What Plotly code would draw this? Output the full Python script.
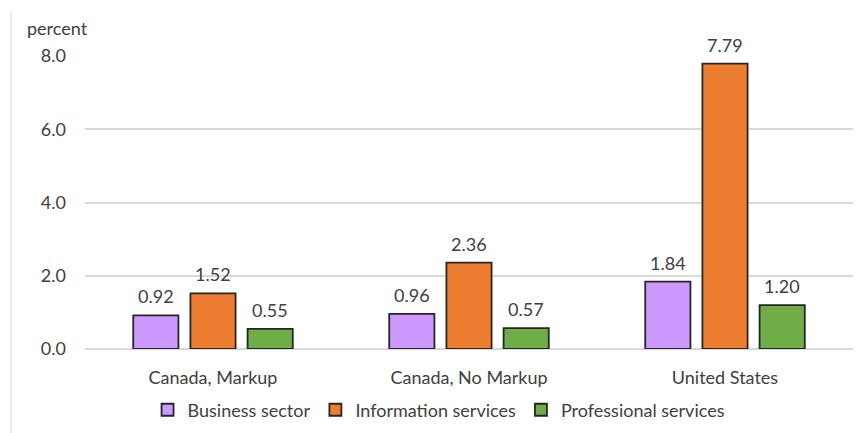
import plotly.graph_objects as go

categories = ["Canada, Markup", "Canada, No Markup", "United States"]
business_sector = [0.92, 0.96, 1.84]
information_services = [1.52, 2.36, 7.79]
professional_services = [0.55, 0.57, 1.20]

series = [
    ("Business sector", business_sector, "#CC99FF"),
    ("Information services", information_services, "#ED7D31"),
    ("Professional services", professional_services, "#70AD47"),
]

FONT = "Lato, Carlito, Calibri, sans-serif"
TEXT = "#404040"
SIZE = 18

W, H = 863, 433
M = dict(l=85, r=10, t=56, b=84)
BARGAP = 0.33
BARGROUPGAP = 0.21

# horizontal pixel distance between neighbouring bars inside a group
plot_w = W - M["l"] - M["r"]
slot_px = plot_w / len(categories) * (1 - BARGAP) / len(series)

fig = go.Figure()
annotations = []
for i, (name, vals, color) in enumerate(series):
    fig.add_trace(go.Bar(
        name=name, x=categories, y=vals,
        marker=dict(color=color, line=dict(color="#262626", width=1.8)),
    ))
    # value labels sitting above each bar
    for cat, v in zip(categories, vals):
        annotations.append(dict(
            x=cat, y=v, xref="x", yref="y", text=f"{v:.2f}", showarrow=False,
            xanchor="center", yanchor="middle", yshift=19,
            xshift=(i - (len(series) - 1) / 2) * slot_px,
            font=dict(size=SIZE, color=TEXT, family=FONT),
        ))

annotations.append(dict(text="percent", xref="paper", yref="paper", x=-0.078, y=1.096,
                        xanchor="left", yanchor="middle", showarrow=False,
                        font=dict(size=SIZE, color=TEXT, family=FONT)))

fig.update_layout(
    width=W, height=H,
    margin=M,
    paper_bgcolor="white", plot_bgcolor="white",
    barmode="group", bargap=BARGAP, bargroupgap=BARGROUPGAP,
    font=dict(family=FONT, size=SIZE, color=TEXT),
    showlegend=True,
    legend=dict(orientation="h", x=0.461, xanchor="center",
                yref="container", y=0.053, yanchor="middle",
                font=dict(size=SIZE, color=TEXT, family=FONT), itemwidth=30,
                traceorder="normal"),
    xaxis=dict(showgrid=False, showline=False, ticks="", ticklabelstandoff=16,
               automargin=False,
               tickfont=dict(size=SIZE, color=TEXT, family=FONT)),
    yaxis=dict(range=[0, 8], dtick=2, tickformat=".1f", showgrid=True,
               gridcolor="#d9d9d9", gridwidth=1.5, zeroline=True, zerolinecolor="#d9d9d9",
               zerolinewidth=1.5, ticks="", ticklabelstandoff=18, automargin=False,
               tickfont=dict(size=SIZE, color=TEXT, family=FONT)),
    annotations=annotations,
    shapes=[dict(type="line", xref="paper", yref="paper", x0=-0.0964, x1=-0.0964,
                 y0=1.154, y1=-0.29, line=dict(color="#d9d9d9", width=1))],
)

fig.write_html("out.html")
